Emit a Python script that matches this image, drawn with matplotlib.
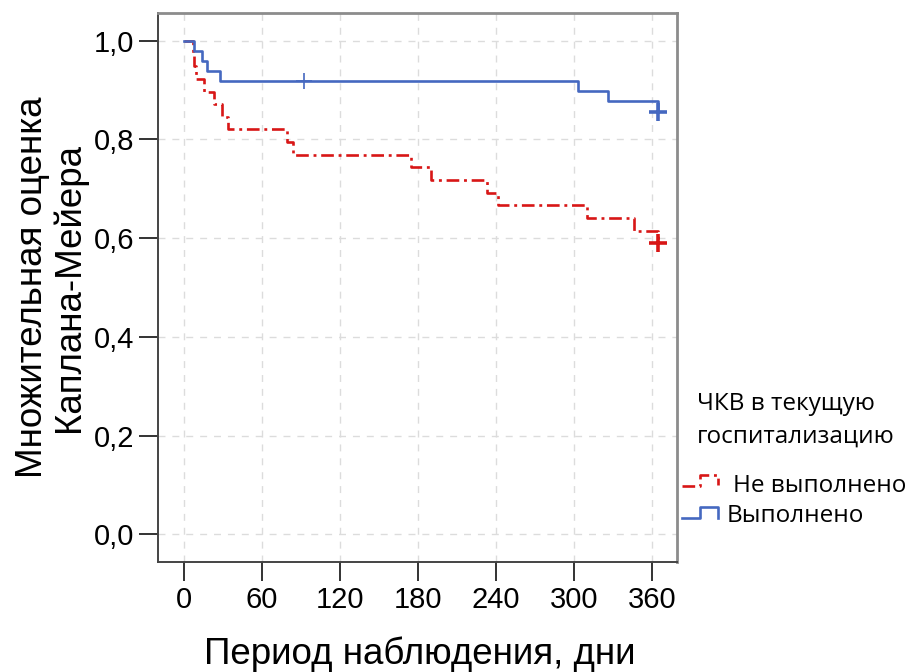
import matplotlib
matplotlib.use("Agg")
import matplotlib.pyplot as plt
from matplotlib.lines import Line2D

# ---- data ----
blue_label = "Выполнено"
blue_times = [0, 7.5, 14, 18, 28, 303, 326, 365]
blue_surv = [1.0, 0.980, 0.959, 0.939, 0.918, 0.898, 0.878, 0.855]
blue_censor_mid_t = [92]
blue_censor_mid_s = [0.918]
blue_censor_end_t = [365]
blue_censor_end_s = [0.855]

red_label = "Не выполнено"
red_times = [0, 7, 8, 9, 15, 23, 29, 34, 79, 84, 175, 190, 233, 242, 310, 346, 365]
red_surv = [1.0, 0.974, 0.949, 0.923, 0.897, 0.872, 0.846, 0.821, 0.795, 0.769,
            0.744, 0.718, 0.692, 0.667, 0.641, 0.615, 0.590]
red_censor_end_t = [365]
red_censor_end_s = [0.590]

x_ticks = [0, 60, 120, 180, 240, 300, 360]
y_ticks = [0.0, 0.2, 0.4, 0.6, 0.8, 1.0]
y_ticklabels = ["0,0", "0,2", "0,4", "0,6", "0,8", "1,0"]
legend_title_lines = ["ЧКВ в текущую", "госпитализацию"]
xlabel = "Период наблюдения, дни"
ylabel = "Множительная оценка\nКаплана-Мейера"

BLUE = "#4568c0"
RED = "#d81616"
RED_LS = (0, (4.8, 1.8, 1.1, 1.8))

W, H = 913, 672
fig = plt.figure(figsize=(W / 100, H / 100), dpi=100)
plt.rcParams["font.family"] = ["Liberation Sans", "DejaVu Sans"]

ax = fig.add_axes([158.3 / W, 1 - 562 / H, (676.7 - 158.3) / W, (562 - 13.3) / H])
ax.set_xlim(-19.8, 379.2)
ax.set_ylim(-0.056, 1.0555)

# grid
for t in x_ticks:
    ax.axvline(t, color="#dcdcdc", lw=1.0, ls=(0, (5, 5)), zorder=0)
for t in y_ticks:
    ax.axhline(t, color="#dcdcdc", lw=1.0, ls=(0, (5, 5)), zorder=0)

ax.step(red_times, red_surv, where="post", color=RED, lw=1.9, ls=RED_LS, zorder=3)
ax.step(blue_times, blue_surv, where="post", color=BLUE, lw=1.9, zorder=4)

ax.plot(blue_censor_mid_t, blue_censor_mid_s, ls="none", marker="+", ms=11,
        mew=1.2, color=BLUE, zorder=5)
ax.plot(blue_censor_end_t, blue_censor_end_s, ls="none", marker="+", ms=13,
        mew=2.6, color=BLUE, zorder=5)
ax.plot(red_censor_end_t, red_censor_end_s, ls="none", marker="+", ms=13,
        mew=2.6, color=RED, zorder=5)

ax.set_xticks(x_ticks)
ax.set_xticklabels([str(t) for t in x_ticks])
ax.set_yticks(y_ticks)
ax.set_yticklabels(y_ticklabels)
ax.tick_params(axis="both", direction="out", length=13.5, width=1.4,
               color="#333333", labelsize=21, labelcolor="black", pad=4)

for side in ["left", "bottom"]:
    ax.spines[side].set_color("#444444")
    ax.spines[side].set_linewidth(1.4)
for side in ["top", "right"]:
    ax.spines[side].set_color("#8c8c8c")
    ax.spines[side].set_linewidth(2.0)

fig.text(51 / W, 1 - 287.5 / H, ylabel, rotation=90, ha="center", va="center",
         multialignment="center", fontsize=26.5, linespacing=1.05)
fig.text(420 / W, 1 - 664 / H, xlabel, ha="center", va="baseline", fontsize=26.5)

# legend (manual)
lf = ["Open Sans", "DejaVu Sans"]
lfs = 17.5
fig.text(697 / W, 1 - 410 / H, legend_title_lines[0], family=lf, fontsize=lfs, va="baseline")
fig.text(697 / W, 1 - 443 / H, legend_title_lines[1], family=lf, fontsize=lfs, va="baseline")
fig.text(733 / W, 1 - 491.5 / H, red_label, family=lf, fontsize=lfs, va="baseline")
fig.text(727 / W, 1 - 521.5 / H, blue_label, family=lf, fontsize=lfs, va="baseline")

def fx(px):
    return px / W

def fy(py):
    return 1 - py / H

fig.add_artist(Line2D([fx(682), fx(700), fx(700), fx(718), fx(718)],
                      [fy(486), fy(486), fy(474.5), fy(474.5), fy(485)],
                      color=RED, lw=1.9, ls=RED_LS, transform=fig.transFigure))
fig.add_artist(Line2D([fx(682), fx(700), fx(700), fx(718), fx(718)],
                      [fy(518), fy(518), fy(507), fy(507), fy(518)],
                      color=BLUE, lw=1.9, transform=fig.transFigure))

fig.savefig("out.png", dpi=100)
